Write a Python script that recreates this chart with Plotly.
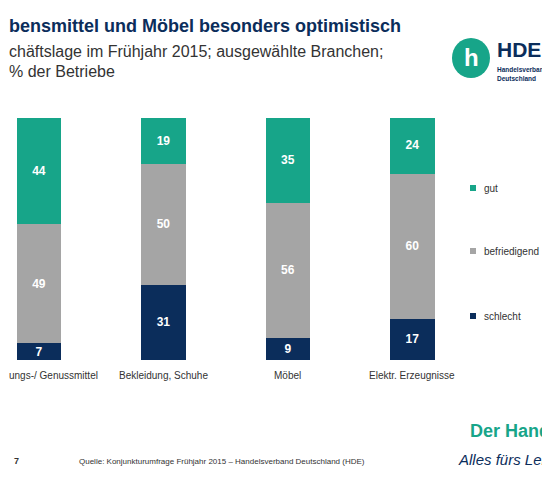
import plotly.graph_objects as go

categories = ["Nahrungs-/ Genussmittel", "Bekleidung, Schuhe", "Möbel", "Elektr. Erzeugnisse"]
cat_labels = ["ungs-/ Genussmittel", "Bekleidung, Schuhe", "Möbel", "Elektr. Erzeugnisse"]
schlecht = [7, 31, 9, 17]
befriedigend = [49, 50, 56, 60]
gut = [44, 19, 35, 24]
series = [("schlecht", schlecht, "#0b2d5b"), ("befriedigend", befriedigend, "#a5a5a5"), ("gut", gut, "#17a589")]

fig = go.Figure()
for name, vals, col in series:
    fig.add_trace(go.Bar(x=list(range(4)), y=vals, name=name, marker_color=col, width=0.36,
                         marker_line_width=0, text=["<b>%d</b>" % v for v in vals], textposition="inside",
                         insidetextanchor="middle", textangle=0, constraintext="none",
                         textfont=dict(color="white", size=12, family="Liberation Sans")))

ann = []
shapes = []

def t(x, y, s, size, color, bold=False, anchor="left", italic=False):
    if bold:
        s = "<b>%s</b>" % s
    if italic:
        s = "<i>%s</i>" % s
    ann.append(dict(x=x/550, y=1-y/480, xref="paper", yref="paper", text=s,
                    showarrow=False, xanchor=anchor, yanchor="middle", borderpad=0,
                    font=dict(size=size, color=color, family="Liberation Sans")))

t(0, 367, cat_labels[0], 10, "#333")
for i, lab in enumerate(cat_labels[1:], start=1):
    ann.append(dict(x=i, y=1-367/480, xref="x", yref="paper", text=lab, showarrow=False, yanchor="middle",
                    xanchor="center", font=dict(size=10, color="#333", family="Liberation Sans")))
for name, ypx, col in [("gut", 180, "#17a589"), ("befriedigend", 243, "#a5a5a5"), ("schlecht", 308, "#0b2d5b")]:
    t(475, ypx, name, 10, "#333")
    shapes.append(dict(type="rect", xref="paper", yref="paper", x0=462/550, x1=468/550,
                       y0=1-(ypx+3)/480, y1=1-(ypx-3)/480, fillcolor=col, line_width=0))

t(0, 18, "bensmittel und Möbel besonders optimistisch", 18, "#0b2d5b", bold=True)
t(0, 43, "chäftslage im Frühjahr 2015; ausgewählte Branchen;", 16, "#333")
t(0, 64, "% der Betriebe", 16, "#333")
t(488, 41, "HDE", 21, "#0b2d5b", bold=True)
t(488, 61, "Handelsverband", 6.5, "#0b2d5b", bold=True)
t(488, 70, "Deutschland", 6.5, "#0b2d5b", bold=True)
shapes.append(dict(type="circle", xref="paper", yref="paper", x0=444/550, x1=482/550,
                   y0=1-70/480, y1=1-30/480, fillcolor="#17a589", line_width=0))
t(463, 50, "h", 24, "white", bold=True, anchor="center")
t(5, 453, "7", 9, "#333", bold=True)
t(70, 453, "Quelle: Konjunkturumfrage Frühjahr 2015 – Handelsverband Deutschland (HDE)", 8, "#333")
t(543, 423, "Der Hand", 18, "#17a589", bold=True, anchor="right")
t(543, 451, "Alles fürs Leb", 15, "#0b2d5b", italic=True, anchor="right")

fig.update_layout(width=550, height=480, margin=dict(l=0, r=0, t=0, b=0), barmode="stack",
                  showlegend=False, plot_bgcolor="white", paper_bgcolor="white",
                  xaxis=dict(range=[-0.249, 4.17], showticklabels=False, showgrid=False, zeroline=False),
                  yaxis=dict(range=[0, 100], visible=False, domain=[1-352/480, 1-110/480]),
                  annotations=ann, shapes=shapes)
fig.write_html("out.html")
